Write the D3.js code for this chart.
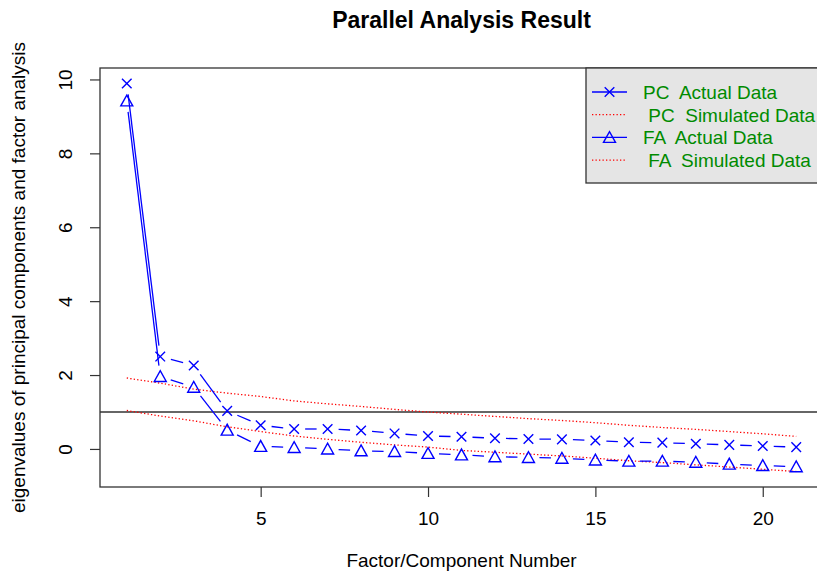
<!DOCTYPE html>
<html>
<head>
<meta charset="utf-8">
<script src="https://cdn.jsdelivr.net/npm/d3@7"></script>
<style>
body { margin: 0; background: #fff; }
svg { font-family: "Liberation Sans", Arial, sans-serif; }
</style>
</head>
<body>
<svg width="817" height="577"></svg>
<script>
var factors = [1,2,3,4,5,6,7,8,9,10,11,12,13,14,15,16,17,18,19,20,21];
var pcActual = [9.89,2.50,2.26,1.03,0.64,0.54,0.54,0.50,0.42,0.35,0.33,0.29,0.27,0.26,0.23,0.18,0.17,0.14,0.11,0.08,0.05];
var pcSim = [1.92,1.78,1.62,1.51,1.42,1.30,1.22,1.15,1.07,1.00,0.94,0.88,0.82,0.77,0.71,0.64,0.58,0.53,0.47,0.41,0.34];
var faActual = [9.42,1.96,1.67,0.51,0.07,0.04,0.00,-0.05,-0.07,-0.12,-0.16,-0.21,-0.23,-0.25,-0.30,-0.33,-0.33,-0.36,-0.41,-0.45,-0.48];
var faSim = [1.04,0.89,0.76,0.60,0.47,0.35,0.26,0.18,0.11,0.05,-0.04,-0.09,-0.14,-0.19,-0.25,-0.32,-0.37,-0.43,-0.49,-0.55,-0.61];
var xTicks = [5,10,15,20];
var yTicks = [0,2,4,6,8,10];
var legendLabels = ["PC  Actual Data", " PC  Simulated Data", "FA  Actual Data", " FA  Simulated Data"];
var refLine = 1;

var svg = d3.select('svg');
var plotLeft = 100, plotRight = 823, plotTop = 68, plotBottom = 487;
var fontSize = 19;

// R style 4% padding around the data range
var allY = pcActual.concat(pcSim, faActual, faSim);
var yMin = d3.min(allY), yMax = d3.max(allY);
var yPad = (yMax - yMin) * 0.04;
var xPad = (d3.max(factors) - d3.min(factors)) * 0.04;

var x = d3.scaleLinear()
    .domain([d3.min(factors) - xPad, d3.max(factors) + xPad])
    .range([plotLeft, plotRight]);
var y = d3.scaleLinear()
    .domain([yMin - yPad, yMax + yPad])
    .range([plotBottom, plotTop]);

// axes
var xAxis = svg.append('g')
    .attr('transform', 'translate(0,' + plotBottom + ')')
    .call(d3.axisBottom(x).tickValues(xTicks).tickSize(10).tickPadding(15).tickFormat(d3.format('d')));
xAxis.select('.domain').remove();
xAxis.selectAll('line').attr('stroke', '#333').attr('stroke-width', 1.2);
xAxis.selectAll('text').attr('font-size', fontSize).attr('fill', '#000');

var yAxis = svg.append('g')
    .attr('transform', 'translate(' + plotLeft + ',0)')
    .call(d3.axisLeft(y).tickValues(yTicks).tickSize(10).tickFormat(d3.format('d')));
yAxis.select('.domain').remove();
yAxis.selectAll('line').attr('stroke', '#333').attr('stroke-width', 1.2);
// R draws y tick labels parallel to the axis
yAxis.selectAll('text')
    .attr('font-size', fontSize)
    .attr('fill', '#000')
    .attr('x', null)
    .attr('dy', null)
    .attr('transform', 'translate(-28,0) rotate(-90)')
    .attr('text-anchor', 'middle');

// plot box
svg.append('rect')
    .attr('x', plotLeft).attr('y', plotTop)
    .attr('width', plotRight - plotLeft).attr('height', plotBottom - plotTop)
    .attr('fill', 'none').attr('stroke', '#333').attr('stroke-width', 1.3);

// reference line at eigenvalue 1
svg.append('line')
    .attr('x1', plotLeft).attr('x2', plotRight)
    .attr('y1', y(refLine)).attr('y2', y(refLine))
    .attr('stroke', '#333').attr('stroke-width', 1.5);

// simulated data: dotted red lines
var line = d3.line().x((d, i) => x(factors[i])).y(d => y(d));
[pcSim, faSim].forEach(s => {
    svg.append('path')
        .attr('d', line(s))
        .attr('fill', 'none')
        .attr('stroke', 'red')
        .attr('stroke-width', 1.3)
        .attr('stroke-dasharray', '1.3,2.2');
});

// actual data: type "b" segments with gaps around the points
var gap = 11;
function gappedSegments(values) {
    var segs = [];
    for (var i = 0; i < values.length - 1; i++) {
        var x0 = x(factors[i]), y0 = y(values[i]);
        var x1 = x(factors[i + 1]), y1 = y(values[i + 1]);
        var len = Math.hypot(x1 - x0, y1 - y0);
        if (len <= 2 * gap) continue;
        var ux = (x1 - x0) / len, uy = (y1 - y0) / len;
        segs.push([x0 + ux * gap, y0 + uy * gap, x1 - ux * gap, y1 - uy * gap]);
    }
    return segs;
}
[pcActual, faActual].forEach(s => {
    svg.append('g').selectAll('line')
        .data(gappedSegments(s))
        .enter().append('line')
        .attr('x1', d => d[0]).attr('y1', d => d[1])
        .attr('x2', d => d[2]).attr('y2', d => d[3])
        .attr('stroke', 'blue')
        .attr('stroke-width', 1.3);
});

function crossPath(cx, cy) {
    var r = 4.8;
    return 'M' + (cx - r) + ',' + (cy - r) + 'L' + (cx + r) + ',' + (cy + r) +
        'M' + (cx - r) + ',' + (cy + r) + 'L' + (cx + r) + ',' + (cy - r);
}
function triPath(cx, cy) {
    return 'M' + (cx - 6) + ',' + (cy + 5) + 'L' + (cx + 6) + ',' + (cy + 5) +
        'L' + cx + ',' + (cy - 5.8) + 'Z';
}

svg.append('g').selectAll('path')
    .data(pcActual)
    .enter().append('path')
    .attr('d', (d, i) => crossPath(x(factors[i]), y(d)))
    .attr('fill', 'none').attr('stroke', 'blue').attr('stroke-width', 1.4);

svg.append('g').selectAll('path')
    .data(faActual)
    .enter().append('path')
    .attr('d', (d, i) => triPath(x(factors[i]), y(d)))
    .attr('fill', 'none').attr('stroke', 'blue').attr('stroke-width', 1.4);

// legend
var lg = svg.append('g');
lg.append('rect')
    .attr('x', 586).attr('y', plotTop)
    .attr('width', plotRight - 586).attr('height', 115)
    .attr('fill', '#e5e5e5').attr('stroke', '#333').attr('stroke-width', 1.3);

var legendColors = ['blue', 'red', 'blue', 'red'];
var rows = lg.selectAll('g.row')
    .data(legendLabels)
    .enter().append('g')
    .attr('class', 'row')
    .attr('transform', (d, i) => 'translate(0,' + (92 + i * 22.7) + ')');
rows.append('line')
    .attr('x1', 592).attr('x2', 627)
    .attr('stroke', (d, i) => legendColors[i])
    .attr('stroke-width', 1.3)
    .attr('stroke-dasharray', (d, i) => i % 2 ? '1.3,2.2' : null);
rows.filter((d, i) => i === 0).append('path')
    .attr('d', crossPath(609.5, 0))
    .attr('fill', 'none').attr('stroke', 'blue').attr('stroke-width', 1.4);
rows.filter((d, i) => i === 2).append('path')
    .attr('d', triPath(609.5, 0))
    .attr('fill', 'none').attr('stroke', 'blue').attr('stroke-width', 1.4);
rows.append('text')
    .attr('x', 643)
    .attr('y', 7)
    .attr('font-size', 19)
    .attr('fill', '#008b00')
    .style('white-space', 'pre')
    .text(d => d);

// titles
svg.append('text')
    .attr('x', (plotLeft + plotRight) / 2)
    .attr('y', 28)
    .attr('text-anchor', 'middle')
    .attr('font-size', 23)
    .attr('font-weight', 'bold')
    .text('Parallel Analysis Result');

svg.append('text')
    .attr('x', (plotLeft + plotRight) / 2)
    .attr('y', 567)
    .attr('text-anchor', 'middle')
    .attr('font-size', fontSize)
    .text('Factor/Component Number');

svg.append('text')
    .attr('transform', 'translate(25,' + (plotTop + plotBottom) / 2 + ') rotate(-90)')
    .attr('text-anchor', 'middle')
    .attr('font-size', fontSize)
    .text('eigenvalues of principal components and factor analysis');
</script>
</body>
</html>
